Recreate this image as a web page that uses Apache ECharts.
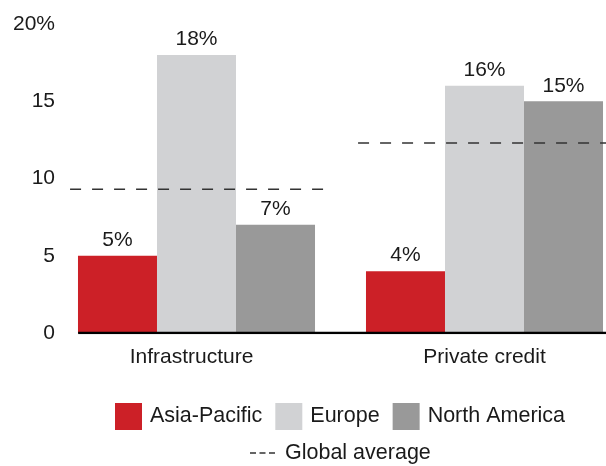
<!DOCTYPE html>
<html>
<head>
<meta charset="utf-8">
<script src="https://cdn.jsdelivr.net/npm/echarts@6/dist/echarts.min.js"></script>
<style>
  html, body { margin: 0; padding: 0; background: #fff; }
  #chart { width: 606px; height: 466px; }
</style>
</head>
<body>
<div id="chart"></div>
<script>
// Categories and regional values (percent)
const categories = ['Infrastructure', 'Private credit'];
const asiaPacific = [5, 4];
const europe = [18, 16];
const northAmerica = [7, 15];
// Global average per asset class
const globalAverage = [9.3, 12.3];
const yTicks = [0, 5, 10, 15, 20];

const FONT = '"Liberation Sans", Arial, sans-serif';
const TEXT = '#1a1a1a';
const COLORS = { ap: '#cc2027', eu: '#d1d2d4', na: '#999999' };

// Horizontal extents (in category units on a hidden value axis) for the
// average lines and the baseline rule.
const avgSpans = [[-0.439, 0.446], [0.561, 1.5]];
const baseSpan = [-0.411, 1.5];

function barSeries(name, data, color) {
  return {
    name, type: 'bar', data,
    xAxisIndex: 0,
    barGap: '0%', barCategoryGap: '17.7%',
    itemStyle: { color },
    label: {
      show: true, position: 'top', distance: 5,
      formatter: '{c}%', color: TEXT, fontSize: 21, fontFamily: FONT
    },
    z: 2
  };
}

const avgSeries = globalAverage.map((v, i) => ({
  name: 'Global average', type: 'line', xAxisIndex: 1,
  data: [[avgSpans[i][0], v], [avgSpans[i][1], v]],
  symbol: 'none', silent: true,
  lineStyle: { color: '#333', width: 1.5, type: [11, 11] },
  itemStyle: { color: '#333' },
  z: 5
}));

// Three short dashes used as the legend key for the average line
const dashIcon = 'path://M0 0h6v1.5h-6z M9.5 0h6v1.5h-6z M19 0h6v1.5h-6z';

const chart = echarts.init(document.getElementById('chart'), null, { renderer: 'canvas' });
chart.setOption({
  animation: false,
  backgroundColor: '#fff',
  grid: { left: 52.5, top: 24, width: 576, height: 309, containLabel: false, outerBoundsMode: 'none' },
  xAxis: [
    {
      type: 'category',
      data: categories.map((c, i) => (i === 0 ? { value: c, textStyle: { padding: [0, 10, 0, 0] } } : c)),
      axisLine: { show: false }, axisTick: { show: false },
      axisLabel: { color: TEXT, fontSize: 21, fontFamily: FONT, margin: 14 }
    },
    { type: 'value', min: -0.5, max: 1.5, show: false }
  ],
  yAxis: {
    type: 'value', min: 0, max: 20, interval: 5,
    splitLine: { show: false }, axisLine: { show: false }, axisTick: { show: false },
    axisLabel: {
      color: TEXT, fontSize: 21, fontFamily: FONT, margin: -2.5, align: 'right',
      formatter: v => (v === yTicks[yTicks.length - 1] ? v + '%' : String(v))
    }
  },
  legend: [
    {
      data: ['Asia-Pacific', 'Europe', 'North America'],
      left: 115, top: 403, padding: 0, icon: 'rect',
      itemWidth: 27, itemHeight: 27, itemGap: 13,
      textStyle: { color: TEXT, fontSize: 21.5, fontFamily: FONT, padding: [4, 0, 0, 3] },
      selectedMode: false
    },
    {
      data: [{ name: 'Global average', icon: dashIcon }],
      left: 250, top: 442, padding: 0,
      itemWidth: 25, itemHeight: 1.5,
      textStyle: { color: TEXT, fontSize: 21.5, fontFamily: FONT, padding: [0, 0, 0, 5] },
      selectedMode: false
    }
  ],
  series: [
    barSeries('Asia-Pacific', asiaPacific, COLORS.ap),
    barSeries('Europe', europe, COLORS.eu),
    barSeries('North America', northAmerica, COLORS.na),
    ...avgSeries,
    {
      name: 'baseline', type: 'line', xAxisIndex: 1,
      data: [[baseSpan[0], 0], [baseSpan[1], 0]],
      symbol: 'none', silent: true,
      lineStyle: { color: '#000', width: 2.5 },
      z: 6
    }
  ]
});
</script>
</body>
</html>
